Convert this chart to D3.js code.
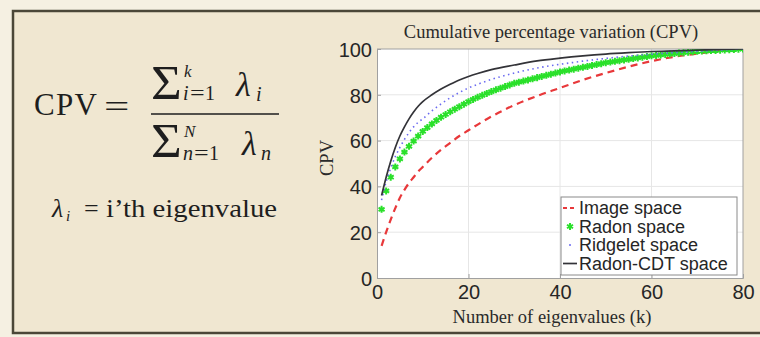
<!DOCTYPE html>
<html>
<head>
<meta charset="utf-8">
<script src="https://cdn.jsdelivr.net/npm/d3@7"></script>
<style>
  body { margin: 0; background: #f5f0e2; }
  svg { display: block; }
</style>
</head>
<body>
<svg id="chart" width="760" height="337"></svg>
<script>
// values
var kValues = d3.range(1, 81);
var radonCpv = [30, 38, 44, 48.5, 52, 55, 57.5, 59.8, 62, 64,
  65.7, 67.3, 68.8, 70.2, 71.4, 72.6, 73.7, 74.8, 75.9, 77,
  78, 78.9, 79.8, 80.6, 81.4, 82.2, 82.9, 83.6, 84.3, 85,
  85.5, 86, 86.5, 87, 87.5, 88, 88.5, 89, 89.5, 90,
  90.4, 90.8, 91.2, 91.6, 92, 92.4, 92.8, 93.2, 93.6, 94,
  94.3, 94.6, 94.9, 95.2, 95.5, 95.8, 96.1, 96.4, 96.7, 97,
  97.2, 97.4, 97.6, 97.8, 98, 98.2, 98.4, 98.6, 98.8, 99,
  99.1, 99.2, 99.3, 99.4, 99.5, 99.6, 99.7, 99.8, 99.9, 100];

var lineK = [1, 2, 3, 4, 5, 6, 7, 8, 9, 10, 12, 14, 16, 18, 20, 22, 25, 30, 35, 40, 45, 50, 55, 60, 65, 70, 75, 80];
var imageCpv = [14, 20, 25.5, 30.5, 35, 38.5, 41.5, 44, 46.5, 48.5, 52.5, 56, 59, 62, 64.5, 67, 70.5, 75.5, 79.5, 83, 86.5, 89.5, 92.3, 94.7, 96.6, 98, 99.2, 100];
var ridgeletCpv = [34, 42, 48, 53, 57, 60.5, 63.5, 66, 68, 69.5, 73, 76, 78.7, 81, 83, 84.6, 86.7, 89.5, 91.7, 93.3, 94.7, 95.9, 96.9, 97.7, 98.4, 99, 99.5, 100];
var radonCdtCpv = [36, 44, 51, 57, 62, 66, 69.5, 72.5, 75, 77, 80, 82.5, 84.6, 86.5, 88, 89.3, 91, 93, 94.8, 96, 97, 97.8, 98.4, 98.9, 99.2, 99.5, 99.8, 100];

var xTicks = [0, 20, 40, 60, 80];
var yTicks = [0, 20, 40, 60, 80, 100];
var legendLabels = ["Image space", "Radon space", "Ridgelet space", "Radon-CDT space"];

var svg = d3.select("#chart");
var serif = "'Liberation Serif', 'Times New Roman', serif";
var sans = "'Liberation Sans', Arial, sans-serif";
var ink = "#1e1e1e";

// slide background + frame
svg.append("rect").attr("width", 760).attr("height", 337).attr("fill", "#f5f0e2");
svg.append("rect").attr("x", 13).attr("y", 11).attr("width", 760).attr("height", 322)
  .attr("fill", "#f0e7d1").attr("stroke", "#4b4738").attr("stroke-width", 2.5);

// ---- formula on the left ----
var f = svg.append("g").attr("font-family", serif).attr("fill", ink);
function put(txt, px, py, size, italic) {
  return f.append("text").attr("x", px).attr("y", py).attr("font-size", size)
    .attr("font-style", italic ? "italic" : null).text(txt);
}
function sigma(px, py) {
  return f.append("text").attr("font-size", 48)
    .attr("transform", "translate(" + px + "," + py + ") scale(1.1,1)").text("\u03a3");
}
// "var=1" under a sum sign
function lowerLimit(name, px, py) {
  put(name, px, py, 20, true);
  f.append("text").attr("font-size", 20)
    .attr("transform", "translate(" + (px + (name === "n" ? 11 : 7)) + "," + py + ") scale(1.3,1)").text("=");
  put("1", px + (name === "n" ? 26 : 22), py, 20);
}
put("CPV", 34, 115, 31).attr("textLength", 63);
f.append("text").attr("font-size", 31).attr("transform", "translate(104,117) scale(1.45,1)").text("=");
// numerator
sigma(151, 99);
put("k", 184, 77, 17, true);
lowerLimit("i", 183, 100);
put("\u03bb", 236, 96, 34, true);
put("i", 256, 101, 20, true);
f.append("line").attr("x1", 151).attr("x2", 279).attr("y1", 114).attr("y2", 114)
  .attr("stroke", ink).attr("stroke-width", 1.4);
// denominator
sigma(151, 157);
put("N", 184, 137, 17, true);
lowerLimit("n", 183, 160);
put("\u03bb", 242, 155, 34, true);
put("n", 261, 160, 20, true);
// eigenvalue note
put("\u03bb", 52, 217, 26, true);
put("i", 66, 221, 15, true);
put("=", 84, 217, 26);
put("i\u2019th eigenvalue", 106, 217, 26).attr("textLength", 171).attr("lengthAdjust", "spacingAndGlyphs");

// ---- chart ----
var x = d3.scaleLinear().domain([0, 80]).range([377, 743]);
var y = d3.scaleLinear().domain([0, 100]).range([278, 49]);

svg.append("rect").attr("x", x(0)).attr("y", y(100))
  .attr("width", x(80) - x(0)).attr("height", y(0) - y(100)).attr("fill", "#ffffff");

svg.append("clipPath").attr("id", "plotClip").append("rect")
  .attr("x", x(0)).attr("y", y(100)).attr("width", x(80) - x(0)).attr("height", y(0) - y(100));

// grid
var grid = svg.append("g").attr("stroke", "#e6e6e6").attr("stroke-width", 1);
grid.selectAll("line.gx").data(xTicks.slice(1, -1)).enter().append("line")
  .attr("x1", function(d) { return x(d); }).attr("x2", function(d) { return x(d); })
  .attr("y1", y(0)).attr("y2", y(100));
grid.selectAll("line.gy").data(yTicks.slice(1, -1)).enter().append("line")
  .attr("x1", x(0)).attr("x2", x(80))
  .attr("y1", function(d) { return y(d); }).attr("y2", function(d) { return y(d); });

// axes
var xAxis = svg.append("g").attr("transform", "translate(0," + y(0) + ")")
  .call(d3.axisBottom(x).tickValues(xTicks).tickSize(-4).tickPadding(7));
var yAxis = svg.append("g").attr("transform", "translate(" + x(0) + ",0)")
  .call(d3.axisLeft(y).tickValues(yTicks).tickSize(-4).tickPadding(5));
[xAxis, yAxis].forEach(function(a) {
  a.select(".domain").attr("stroke", "#a0a0a0");
  a.selectAll(".tick line").attr("stroke", "#a0a0a0");
  a.selectAll(".tick text").attr("font-family", sans).attr("font-size", 20).attr("fill", "#262626");
});
xAxis.selectAll(".tick text").attr("dy", "0.71em");
yAxis.selectAll(".tick text").attr("dy", "0.36em");
// frame top / right
svg.append("path").attr("d", "M" + x(0) + "," + y(100) + "H" + x(80) + "V" + y(0))
  .attr("fill", "none").attr("stroke", "#a0a0a0");

// series
var plot = svg.append("g").attr("clip-path", "url(#plotClip)");
function cpvLine(values) {
  return d3.line()
    .x(function(d, i) { return x(lineK[i]); })
    .y(function(d) { return y(d); })
    .curve(d3.curveMonotoneX)(values);
}
plot.append("path").attr("d", cpvLine(imageCpv)).attr("fill", "none")
  .attr("stroke", "#e8383a").attr("stroke-width", 2.2).attr("stroke-dasharray", "7,5");
plot.selectAll("path.radon").data(radonCpv).enter().append("path")
  .attr("transform", function(d, i) { return "translate(" + x(kValues[i]) + "," + y(d) + ")"; })
  .attr("d", d3.symbol().type(d3.symbolAsterisk).size(34))
  .attr("fill", "none").attr("stroke", "#2ae02a").attr("stroke-width", 2);
plot.append("path").attr("d", cpvLine(ridgeletCpv)).attr("fill", "none")
  .attr("stroke", "#6a6af0").attr("stroke-width", 1.6).attr("stroke-dasharray", "1.5,3.5");
plot.append("path").attr("d", cpvLine(radonCdtCpv)).attr("fill", "none")
  .attr("stroke", "#333338").attr("stroke-width", 1.7);

// titles
svg.append("text").attr("x", 551).attr("y", 38).attr("text-anchor", "middle")
  .attr("font-family", serif).attr("font-size", 18.5).attr("fill", "#2a2a2a")
  .text("Cumulative percentage variation (CPV)");
svg.append("text").attr("x", 552).attr("y", 323).attr("text-anchor", "middle")
  .attr("font-family", serif).attr("font-size", 18.5).attr("fill", "#2a2a2a")
  .text("Number of eigenvalues (k)");
svg.append("text").attr("transform", "translate(333,158) rotate(-90)").attr("text-anchor", "middle")
  .attr("font-family", serif).attr("font-size", 18.5).attr("fill", "#2a2a2a")
  .text("CPV");

// legend
var legend = svg.append("g").attr("transform", "translate(561,197)");
legend.append("rect").attr("width", 176).attr("height", 78)
  .attr("fill", "#ffffff").attr("stroke", "#8a8a8a");
var rows = legend.selectAll("g.row").data(legendLabels).enter().append("g")
  .attr("transform", function(d, i) { return "translate(0," + (11 + i * 18.5) + ")"; });
rows.append("text").attr("x", 18).attr("dy", "0.35em")
  .attr("font-family", sans).attr("font-size", 18).attr("fill", "#262626")
  .text(function(d) { return d; });
var sample = rows.filter(function(d, i) { return i !== 1; }).append("line")
  .attr("x1", 2).attr("x2", 16).attr("y1", 0).attr("y2", 0).attr("fill", "none");
sample.filter(function(d) { return d === "Image space"; })
  .attr("stroke", "#e8383a").attr("stroke-width", 2).attr("stroke-dasharray", "4,3");
sample.filter(function(d) { return d === "Ridgelet space"; })
  .attr("x1", 8).attr("x2", 10).attr("stroke", "#6a6af0").attr("stroke-width", 1.6);
sample.filter(function(d) { return d === "Radon-CDT space"; })
  .attr("stroke", "#333338").attr("stroke-width", 1.7);
rows.filter(function(d, i) { return i === 1; }).append("path")
  .attr("transform", "translate(9,0)")
  .attr("d", d3.symbol().type(d3.symbolAsterisk).size(34))
  .attr("fill", "none").attr("stroke", "#2ae02a").attr("stroke-width", 2);
</script>
</body>
</html>
